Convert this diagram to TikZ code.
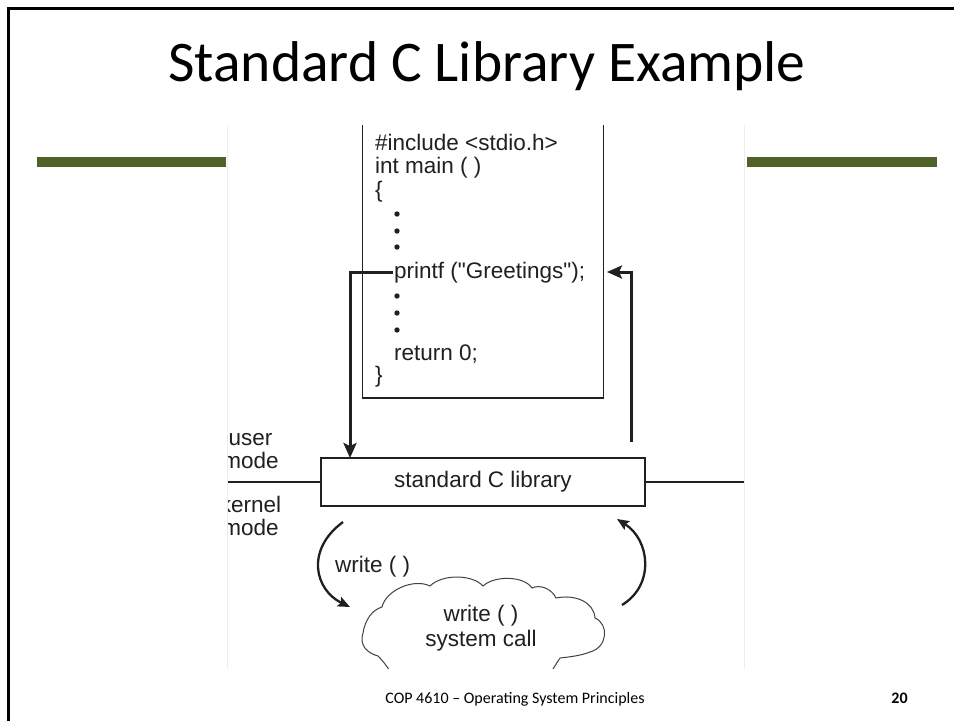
\documentclass[tikz,border=0pt]{standalone}
\usepackage{fontspec}
\setmainfont{Carlito}
\newfontfamily\arialf{Liberation Sans}
\usetikzlibrary{arrows.meta,calc}
\definecolor{barg}{HTML}{4F6228}
\definecolor{ink}{HTML}{231F20}
\begin{document}
\begin{tikzpicture}[x=1pt,y=-1pt,
  dtext/.style={font=\arialf\fontsize{22.5}{25}\selectfont, inner sep=0pt, text=ink},
  code/.style={dtext, anchor=base west},
  lbl/.style={dtext, anchor=base},
  boxline/.style={draw=ink, line width=1.5pt},
  bigarr/.style={draw=ink, line width=3pt, -{Stealth[length=15pt,width=13pt,inset=3pt]}},
  curvarr/.style={draw=ink, line width=2.3pt, -{Stealth[length=12pt,width=10pt,inset=2pt]}},
  modeline/.style={draw=ink, line width=2.3pt},
  cloudline/.style={draw=ink!85, line width=1pt}]
\useasboundingbox (0,0) rectangle (954,721);
% slide frame
\draw[line width=3pt, black] (8.5,721) -- (8.5,8.5) -- (954,8.5);
% green bars
\fill[barg] (37,157) rectangle (226,167);
\fill[barg] (747,157) rectangle (937,167);
% pasted picture background
\fill[white] (227.5,125) rectangle (744.5,668);
\draw[black!7, line width=0.8pt] (227.6,125) -- (227.6,668);
\draw[black!7, line width=0.8pt] (744.4,125) -- (744.4,668);
\begin{scope}
\clip (228,125) rectangle (744,668);
% code box
\node[boxline, minimum width=241pt, minimum height=300pt, outer sep=0pt, inner sep=0pt] (codebox) at (482.75,248) {};
\node[code] (l1) at (375,150) {\#include <stdio.h>};
\node[code] (l2) at (375,173) {int main ( )};
\node[code] (l3) at (375,197) {\{};
\fill[ink] (397,214) circle (2.7) (397,231) circle (2.7) (397,247) circle (2.7);
\node[code] (printf) at (394,278) {printf ("Greetings");};
\fill[ink] (397,296) circle (2.7) (397,313) circle (2.7) (397,330) circle (2.7);
\node[code] (ret) at (394,360) {return 0;};
\node[code] (l5) at (375,382) {\}};
% library box
\node[boxline, minimum width=324pt, minimum height=48pt, outer sep=0pt, inner sep=0pt, dtext] (lib) at (483,482) {standard C library};
% mode lines
\coordinate (mL) at (228,482);
\coordinate (mR) at (744,482);
\draw[modeline] (lib.west) -- (mL);
\draw[modeline] (lib.east) -- (mR);
\node[lbl] (user) at (250.5,445) {user};
\node[lbl] (umode) at (250.5,468) {mode};
\node[lbl] (kern) at (250.5,512) {kernel};
\node[lbl] (kmode) at (250.5,535) {mode};
% printf arrows
\coordinate (la) at (350,0);
\draw[bigarr] ([xshift=-1pt]printf.west) -| (lib.north -| la);
\coordinate (rs) at (631,442);
\coordinate (re) at (607,272);
\draw[bigarr] (rs) |- (re);
% cloud
\draw[cloudline] (395,680) .. controls (390,670) and (384,662) .. (378,656)
 .. controls (367,653) and (359,645) .. (363,633)
 .. controls (365,620) and (372,610) .. (382,607)
 .. controls (386,590) and (414,578) .. (430,586)
 .. controls (442,574) and (472,574) .. (483,586)
 .. controls (495,575) and (524,576) .. (532,588)
 .. controls (540,584) and (552,589) .. (556,598)
 .. controls (575,594) and (594,602) .. (595,618)
 .. controls (609,624) and (608,647) .. (590,652)
 .. controls (580,656) and (568,657) .. (560,658)
 .. controls (556,664) and (552,671) .. (546,680);
\node[lbl] (cw) at (481,621) {write ( )};
\node[lbl] (cs) at (481,646) {system call};
% curved arrows
\coordinate (c1s) at (343,522);
\coordinate (c1e) at (350,607);
\coordinate (c2s) at (622,605);
\coordinate (c2e) at (617,519);
\draw[curvarr] (c1s) .. controls (305,550) and (315,590) .. (c1e);
\draw[curvarr] (c2s) .. controls (655,585) and (650,540) .. (c2e);
\node[dtext, anchor=west] (wlbl) at (335,567) {write ( )};
\end{scope}
% title and footer
\node[font=\fontsize{57.5}{66}\selectfont, anchor=base, inner sep=0pt] (title) at (487,81) {Standard C Library Example};
\node[font=\fontsize{16}{19}\selectfont, anchor=base, inner sep=0pt] (foot) at (515,703) {COP 4610 – Operating System Principles};
\node[font=\bfseries\fontsize{16}{19}\selectfont, anchor=base, inner sep=0pt] (pg) at (899.5,703) {20};
\end{tikzpicture}
\end{document}
